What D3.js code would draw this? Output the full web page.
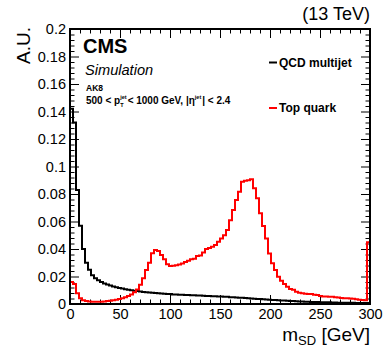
<!DOCTYPE html>
<html>
<head>
<meta charset="utf-8" />
<title>mSD</title>
<script src="https://cdn.jsdelivr.net/npm/d3@7"></script>
<style>
    html, body { margin: 0; padding: 0; background: #fff; }
    text { font-family: "Liberation Sans", Arial, Helvetica, sans-serif; }
</style>
</head>
<body>
<script>

    // m_SD histograms, 3 GeV bins from 0 to 300 GeV
    var binWidth = 3;
    var qcd = [
        0.142, 0.132, 0.083, 0.057, 0.040, 0.030, 0.025, 0.021, 0.0187, 0.0172,
        0.0160, 0.0150, 0.0142, 0.0135, 0.0128, 0.0122, 0.0117, 0.0112, 0.0108, 0.0104,
        0.0100, 0.0097, 0.0094, 0.0091, 0.0088, 0.0086, 0.0084, 0.0082, 0.0080, 0.0078,
        0.0076, 0.0075, 0.0073, 0.0072, 0.0070, 0.0069, 0.0068, 0.0067, 0.0066, 0.0065,
        0.0064, 0.0063, 0.0062, 0.0061, 0.0060, 0.0059, 0.0058, 0.0057, 0.0056, 0.0055,
        0.0054, 0.0053, 0.0052, 0.0050, 0.0049, 0.0048, 0.0046, 0.0045, 0.0043, 0.0042,
        0.0040, 0.0039, 0.0037, 0.0036, 0.0034, 0.0033, 0.0031, 0.0030, 0.0029, 0.0027,
        0.0026, 0.0025, 0.0024, 0.0022, 0.0021, 0.0020, 0.0019, 0.0018, 0.0017, 0.0016,
        0.0015, 0.0014, 0.0014, 0.0013, 0.0013, 0.0012, 0.0012, 0.0011, 0.0011, 0.0010,
        0.0010, 0.0010, 0.0009, 0.0009, 0.0009, 0.0008, 0.0008, 0.0008, 0.0008, 0.0008
    ];
    var topQuark = [
        0.0160, 0.0145, 0.0078, 0.0042, 0.0028, 0.0022, 0.0019, 0.0017, 0.0016, 0.0016,
        0.0017, 0.0019, 0.0021, 0.0024, 0.0027, 0.0031, 0.0036, 0.0042, 0.0050, 0.0058,
        0.0070, 0.0085, 0.0105, 0.0140, 0.0187, 0.0247, 0.0300, 0.0369, 0.0393, 0.0386,
        0.0356, 0.0325, 0.0289, 0.0276, 0.0278, 0.0282, 0.0288, 0.0295, 0.0305, 0.0315,
        0.0325, 0.0330, 0.0350, 0.0352, 0.0375, 0.0400, 0.0408, 0.0417, 0.0429, 0.0453,
        0.0477, 0.0500, 0.0538, 0.0610, 0.0684, 0.0756, 0.0817, 0.0890, 0.0897, 0.0900,
        0.0907, 0.0841, 0.0769, 0.0660, 0.0567, 0.0477, 0.0368, 0.0296, 0.0247, 0.0199,
        0.0170, 0.0145, 0.0126, 0.0110, 0.0104, 0.0090, 0.0082, 0.0078, 0.0075, 0.0073,
        0.0072, 0.0068, 0.0065, 0.0058, 0.0055, 0.0054, 0.0053, 0.0052, 0.0050, 0.0048,
        0.0044, 0.0042, 0.0041, 0.0040, 0.0038, 0.0035, 0.0031, 0.0029, 0.0028, 0.045
    ];
    var xTicks = [0, 50, 100, 150, 200, 250, 300];
    var yTicks = [0, 0.02, 0.04, 0.06, 0.08, 0.1, 0.12, 0.14, 0.16, 0.18, 0.2];
    var legendNames = ["QCD multijet", "Top quark"];
    var legendColors = ["#000000", "#ff0000"];

    var width = 390;
    var height = 358;
    var margin = {left: 70, right: 20, top: 29, bottom: 54};
    var svg = d3.select('body').append('svg').attr('width', width).attr('height', height);

    var x = d3.scaleLinear().domain([0, 300]).range([margin.left, width - margin.right]);
    var y = d3.scaleLinear().domain([0, 0.2]).range([height - margin.bottom, margin.top]);

    var xMinor = d3.range(0, 301, 10).filter(d => xTicks.indexOf(d) < 0);
    var yMinor = d3.range(0, 51).map(d => +(d * 0.004).toFixed(3)).filter(d => Math.round(d * 1000) % 20 != 0);

    // ticks on all four sides, pointing in (ROOT style)
    function axisGroup(axis, tx, ty) {
        var g = svg.append('g').attr('transform', 'translate(' + tx + ',' + ty + ')').call(axis);
        g.select('.domain').remove();
        g.selectAll('line').attr('stroke', '#000').attr('stroke-width', 1);
        g.selectAll('text').attr('font-size', '14.5px').attr('fill', '#000');
        return g;
    }
    var x0 = x.range()[0], x1 = x.range()[1], y0 = y.range()[0], y1 = y.range()[1];
    axisGroup(d3.axisBottom(x).tickValues(xTicks).tickSize(-9).tickPadding(5).tickFormat(d3.format('d')), 0, y0);
    axisGroup(d3.axisBottom(x).tickValues(xMinor).tickSize(-4.5).tickFormat(''), 0, y0);
    axisGroup(d3.axisTop(x).tickValues(xTicks).tickSize(-9).tickFormat(''), 0, y1);
    axisGroup(d3.axisTop(x).tickValues(xMinor).tickSize(-4.5).tickFormat(''), 0, y1);
    axisGroup(d3.axisLeft(y).tickValues(yTicks).tickSize(-9).tickPadding(4).tickFormat(d3.format('~g')), x0, 0);
    axisGroup(d3.axisLeft(y).tickValues(yMinor).tickSize(-4.5).tickFormat(''), x0, 0);
    axisGroup(d3.axisRight(y).tickValues(yTicks).tickSize(-9).tickFormat(''), x1, 0);
    axisGroup(d3.axisRight(y).tickValues(yMinor).tickSize(-4.5).tickFormat(''), x1, 0);

    // histograms
    var line = d3.line().x(d => x(d[0])).y(d => y(d[1])).curve(d3.curveStepAfter);
    function histPoints(vals) {
        var pts = [[0, 0]];
        vals.forEach((v, i) => pts.push([i * binWidth, v]));
        pts.push([vals.length * binWidth, vals[vals.length - 1]]);
        pts.push([vals.length * binWidth, 0]);
        return pts;
    }
    [qcd, topQuark].forEach((vals, i) => {
        svg.append('path').attr('d', line(histPoints(vals)))
            .attr('fill', 'none').attr('stroke', legendColors[i]).attr('stroke-width', 2);
    });

    // frame
    svg.append('rect').attr('x', x0).attr('y', y1).attr('width', x1 - x0).attr('height', y0 - y1)
        .attr('fill', 'none').attr('stroke', '#000').attr('stroke-width', 2);

    // axis titles
    var xt = svg.append('text').attr('x', x1).attr('y', 341).attr('text-anchor', 'end').attr('font-size', '19px');
    xt.append('tspan').text('m');
    xt.append('tspan').attr('font-size', '13px').attr('dy', 4).text('SD');
    xt.append('tspan').attr('dy', -4).text(' [GeV]');

    svg.append('text').attr('transform', 'translate(30,27) rotate(-90)').attr('text-anchor', 'end')
        .attr('font-size', '19px').text('A.U.');

    svg.append('text').attr('x', x1).attr('y', 20).attr('text-anchor', 'end').attr('font-size', '18px').text('(13 TeV)');

    // CMS labels
    svg.append('text').attr('x', 83).attr('y', 53).attr('font-size', '20px').attr('font-weight', 'bold').text('CMS');
    svg.append('text').attr('x', 85).attr('y', 75).attr('font-size', '14.6px').attr('font-style', 'italic').text('Simulation');
    svg.append('text').attr('x', 86).attr('y', 91).attr('font-size', '8.5px').attr('font-weight', 'bold').text('AK8');

    // 500 < pT^jet < 1000 GeV, |eta^jet| < 2.4
    var pieces = [
        {t: '500 < p'},
        {t: 'jet', sup: true, stack: true},
        {t: 'T', sub: true},
        {t: ' < 1000 GeV, |\u03b7'},
        {t: 'jet', sup: true},
        {t: '| < 2.4'}
    ];
    var cx = 86, base = 104, fs = 10, stackW = 0;
    pieces.forEach(p => {
        var size = (p.sup || p.sub) ? fs * 0.55 : fs;
        var dy = p.sup ? -5.5 : (p.sub ? 3 : 0);
        var t = svg.append('text').attr('x', cx).attr('y', base + dy).attr('font-size', size + 'px')
            .attr('font-weight', 'bold').text(p.t);
        var w = t.node().getComputedTextLength();
        if (p.stack) { stackW = w; return; }
        cx += Math.max(w, stackW) + ((p.sup || p.sub) ? 1 : 0);
        stackW = 0;
    });

    // legend
    legendNames.forEach((name, i) => {
        var ly = [62.5, 108][i];
        svg.append('line').attr('x1', 269).attr('x2', 277).attr('y1', ly).attr('y2', ly)
            .attr('stroke', legendColors[i]).attr('stroke-width', 2);
        svg.append('text').attr('x', 279).attr('y', ly + 4.3).attr('font-size', '12px')
            .attr('font-weight', 'bold').text(name);
    });

</script>
</body>
</html>
